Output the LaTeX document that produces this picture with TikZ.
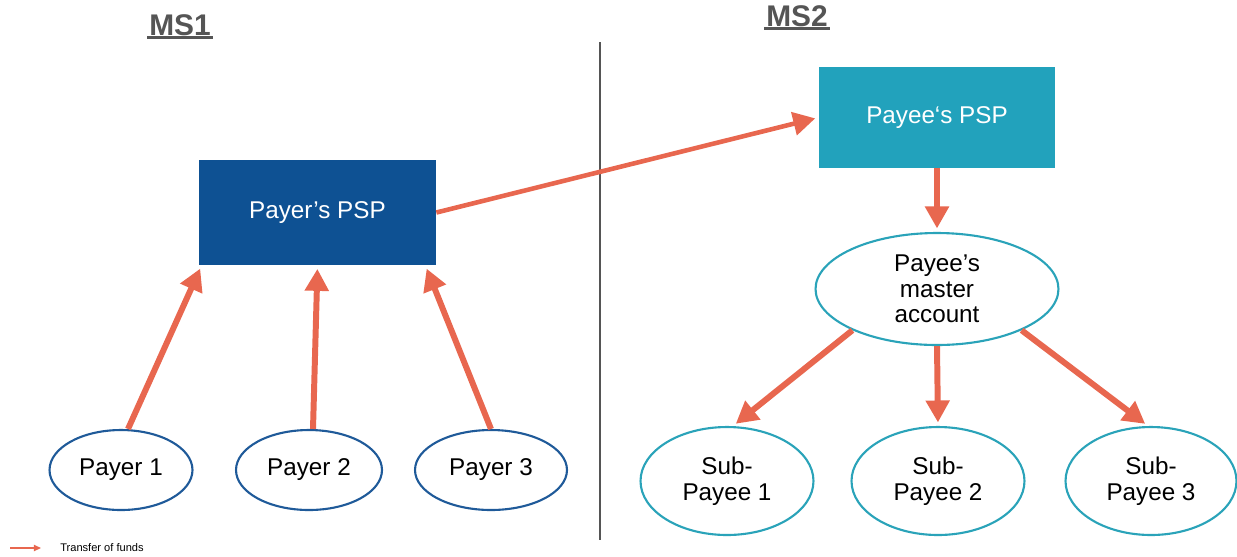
\documentclass[tikz,border=0pt]{standalone}
\usepackage{fontspec}
\setmainfont{Liberation Sans}
\usepackage{xcolor}
\usetikzlibrary{arrows.meta,shapes.geometric,calc}

\definecolor{pspblue}{HTML}{0E5193}
\definecolor{pspteal}{HTML}{22A2BC}
\definecolor{fundred}{HTML}{E8674F}
\definecolor{payerline}{HTML}{1F5A99}
\definecolor{subline}{HTML}{2AA3B9}
\definecolor{titlegray}{HTML}{555555}

\begin{document}
\begin{tikzpicture}[x=0.02cm,y=-0.02cm,
    font=\fontsize{13.8}{14.6}\selectfont,
    psp/.style={rectangle,draw=none,text=white,inner sep=0pt},
    acct/.style={ellipse,draw,line width=1.2pt,fill=white,align=center,inner sep=0pt},
    fund/.style={draw=fundred,line width=3.4pt,shorten >=2pt,
      -{Triangle[length=0.44cm,width=0.46cm]}},
    title/.style={font=\fontsize{17}{19}\selectfont\bfseries,text=titlegray,inner sep=1pt}]
  \useasboundingbox (0,0) rectangle (1237,556);

  % titles and divider
  \node[title] (ms1) at (180,25) {MS1};
  \node[title] (ms2) at (797,16) {MS2};
  \draw[titlegray,line width=1.9pt] (ms1.south west) -- (ms1.south east);
  \draw[titlegray,line width=1.9pt] (ms2.south west) -- (ms2.south east);
  \draw[titlegray,line width=0.9pt] (600,42) -- (600,540);

  % PSPs
  \node[psp,fill=pspblue,minimum width=4.74cm,minimum height=2.1cm] (psr) at (317.5,212.5) {Payer’s PSP};
  \node[psp,fill=pspteal,minimum width=4.72cm,minimum height=2.02cm] (pse) at (937,117.5) {Payee`s PSP};

  % accounts
  \node[acct,draw=subline,minimum width=4.86cm,minimum height=2.24cm] (ma) at (937,289) {Payee’s\\master\\account};
  \node[acct,draw=payerline,minimum width=2.86cm,minimum height=1.6cm] (p1) at (121,470) {Payer 1};
  \node[acct,draw=payerline,minimum width=2.92cm,minimum height=1.6cm] (p2) at (309,470) {Payer 2};
  \node[acct,draw=payerline,minimum width=3.04cm,minimum height=1.6cm] (p3) at (491,470) {Payer 3};
  \node[acct,draw=subline,minimum width=3.46cm,minimum height=2.16cm] (s1) at (727,481) {Sub-\\Payee 1};
  \node[acct,draw=subline,minimum width=3.46cm,minimum height=2.16cm] (s2) at (938,481) {Sub-\\Payee 2};
  \node[acct,draw=subline,minimum width=3.42cm,minimum height=2.16cm] (s3) at (1151,481) {Sub-\\Payee 3};

  % transfers
  \draw[fund] ($(p1.north)+(7,0)$) -- ($(psr.south west)+(3,0)$);
  \draw[fund] ($(p2.north)+(4,0)$) -- (psr.south);
  \draw[fund] (p3.north) -- ($(psr.south east)+(-11,0)$);
  \draw[fund,line width=2.6pt] (psr.east) -- (pse.west);
  \draw[fund] (pse.south) -- (ma.north);
  \draw[fund] (ma.206) -- ($(s1.north)+(6,0)$);
  \draw[fund] (ma.south) -- (s2.north);
  \draw[fund] (ma.-26) -- ($(s3.north)+(-3,0)$);

  % legend
  \coordinate (lgs) at (10,548);
  \node[anchor=west,font=\fontsize{6.3}{7}\selectfont,inner sep=0pt] (lg) at (60,548) {Transfer of funds};
  \draw[fundred,line width=0.8pt,shorten >=0.38cm,-{Triangle[length=4pt,width=3.5pt]}] (lgs) -- (lg.west);
\end{tikzpicture}
\end{document}
